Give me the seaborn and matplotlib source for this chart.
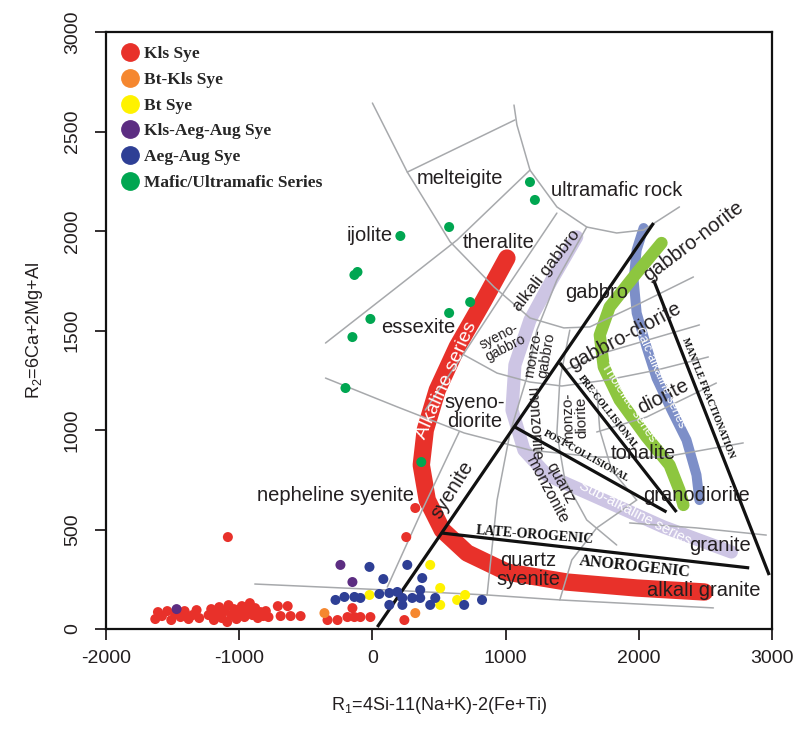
"""
R1-R2 (De la Roche) classification diagram with sample groups
"""
import pandas as pd
import matplotlib.pyplot as plt
import seaborn as sns
from matplotlib.lines import Line2D

sns.set_style("ticks")
plt.rcParams['font.family'] = ['Liberation Sans', 'DejaVu Sans']
plt.rcParams['mathtext.fontset'] = 'custom'
plt.rcParams['mathtext.rm'] = 'Liberation Sans'
plt.rcParams['mathtext.it'] = 'Liberation Sans:italic'
plt.rcParams['axes.unicode_minus'] = False

# ---------------- sample data (R1, R2) ----------------
kls_x = [-1630, -1610, -1580, -1540, -1510, -1480, -1440, -1410, -1380, -1350, -1320, -1300,
         -1230, -1210, -1190, -1170, -1150, -1130, -1110, -1090, -1080, -1060, -1040, -1020,
         -1000, -980, -960, -940, -920, -900, -880, -860, -840, -820, -800, -780,
         -1085, -710, -636, -689, -614, -539, -337, -262, -187, -135, -90, -15, -150,
         240, 254, 322]
kls_y = [50, 85, 65, 90, 45, 75, 60, 90, 50, 70, 95, 55,
         70, 100, 45, 80, 110, 55, 90, 35, 120, 70, 100, 50,
         85, 115, 60, 95, 130, 70, 105, 55, 85, 65, 90, 60,
         462, 115, 115, 65, 65, 65, 45, 45, 60, 60, 60, 60, 105,
         45, 462, 608]

btkls_x = [-360, 322]
btkls_y = [80, 80]

bt_x = [434, -22, 509, 509, 636, 696]
bt_y = [322, 171, 206, 121, 146, 171]

klsaeg_x = [-240, -150, -1470]
klsaeg_y = [322, 236, 100]

aeg_x = [-22, 262, 82, 374, -277, -210, -135, -90, 52, 127, 187, 225, 299, 359, 359,
         434, 472, 127, 225, 689, 823]
aeg_y = [312, 322, 251, 256, 146, 161, 161, 156, 176, 181, 186, 156, 156, 196, 156,
         121, 156, 121, 121, 121, 146]

mafic_x = [1183, 1220, 576, 210, -112, -135, 734, 576, -15, -150, -202, 367]
mafic_y = [2246, 2156, 2020, 1975, 1794, 1779, 1643, 1588, 1558, 1467, 1211, 839]

groups = ['Kls Sye', 'Bt-Kls Sye', 'Bt Sye', 'Kls-Aeg-Aug Sye', 'Aeg-Aug Sye',
          'Mafic/Ultramafic Series']
colors = ['#e8312a', '#f5872f', '#fff200', '#5c2d82', '#2e3f95', '#00a651']

# ---------------- classification grid (R1, R2) ----------------
bnd_gabbro_top = [(0, 2643), (262, 2296), (584, 1945), (913, 1719), (1183, 1563),
                  (1437, 1513), (1632, 1518), (1984, 1628), (2410, 1769)]
bnd_ultramafic = [(1063, 2633), (1085, 2533), (1183, 2306), (1385, 2121), (1609, 2020),
                  (1834, 1990), (2036, 2005), (2305, 2121)]
bnd_melteigite = [(262, 2296), (1070, 2558)]
bnd_theralite = [(-352, 1437), (187, 1719), (636, 1955), (1183, 2306)]
bnd_alk_gabbro = [(1385, 2090), (1033, 1739), (689, 1387), (397, 1100)]
bnd_monzo = [(1609, 2020), (1385, 1754), (1235, 1502), (1160, 1266), (1033, 985),
             (936, 648), (861, 171)]
bnd_syenodiorite = [(-352, 1261), (187, 1116), (689, 985), (1183, 899), (1684, 864),
                    (2186, 864), (2784, 935)]
bnd_syenogabbro = [(689, 1377), (936, 1286), (1183, 1241), (1422, 1221), (1759, 1251),
                   (2133, 1301), (2522, 1367)]
bnd_gabbrodiorite = [(1445, 1301), (1759, 1392), (2455, 1528)]
bnd_tonalite = [(1684, 990), (2058, 1065), (2582, 1236)]
bnd_syenite = [(651, 990), (374, 598), (112, 211)]
bnd_base = [(-883, 226), (112, 196), (861, 171), (1407, 146), (2560, 106)]
bnd_qmonzonite = [(1482, 1502), (1407, 1251), (1385, 985), (1445, 749), (1609, 548),
                  (1834, 422)]
bnd_monzodiorite = [(1684, 1201), (1707, 1000), (1796, 799), (1984, 648)]
bnd_qsyenite = [(1407, 146), (1497, 347), (1684, 508), (1984, 648)]
bnd_granite = [(1931, 533), (2433, 508), (2957, 472)]

grid_lines = [bnd_gabbro_top, bnd_ultramafic, bnd_melteigite, bnd_theralite,
              bnd_alk_gabbro, bnd_monzo, bnd_syenodiorite, bnd_syenogabbro,
              bnd_gabbrodiorite, bnd_tonalite, bnd_syenite, bnd_base,
              bnd_qmonzonite, bnd_monzodiorite, bnd_qsyenite, bnd_granite]

# magmatic series trends
trend_alkaline = [(1010, 1864), (838, 1653), (636, 1417), (487, 1201), (397, 1000),
                  (367, 824), (412, 648), (524, 498), (711, 382), (1010, 286),
                  (1460, 236), (1984, 206), (2493, 186)]
trend_subalk = [(1534, 1970), (1347, 1754), (1183, 1553), (1070, 1327), (1048, 1100),
                (1138, 899), (1310, 774), (1684, 663), (2186, 513), (2695, 387)]
trend_thol = [(2171, 1940), (1984, 1789), (1781, 1618), (1707, 1477), (1737, 1317),
              (1856, 1151), (2058, 965), (2231, 824), (2305, 698), (2335, 623)]
trend_calc = [(2036, 2015), (1984, 1905), (1961, 1754), (1984, 1588), (2058, 1417),
              (2133, 1261), (2246, 1100), (2358, 950), (2433, 774), (2455, 648)]

# tectonic discrimination lines (Batchelor & Bowden)
tect_main = [(37, 10), (2111, 2040)]
tect_late = [(524, 482), (2829, 307)]
tect_post = [(1070, 1015), (2208, 588)]
tect_pre = [(1407, 1337), (2283, 588)]
tect_mantle = [(2111, 1754), (2979, 271)]

# rock names: text, R1, R2, rotation, size
rock_names = [
    ("melteigite", 659, 2266, 0, 14.5),
    ("ultramafic rock", 1834, 2206, 0, 14.5),
    ("ijolite", -22, 1975, 0, 14.5),
    ("theralite", 951, 1940, 0, 14.5),
    ("alkali gabbro", 1310, 1804, 52, 12.5),
    ("gabbro", 1684, 1693, 0, 14.5),
    ("gabbro-norite", 2410, 1950, 37, 14.5),
    ("gabbro-diorite", 1894, 1472, 28, 14.5),
    ("essexite", 344, 1513, 0, 14.5),
    ("syeno-\ngabbro", 973, 1442, 27, 10),
    ("monzo-\ngabbro", 1257, 1380, 80, 10.5),
    ("syeno-\ndiorite", 771, 1090, 0, 14.5),
    ("monzonite", 1213, 1030, -86, 11.5),
    ("monzo-\ndiorite", 1519, 1060, 92, 11),
    ("quartz\nmonzonite", 1362, 714, -62, 11.5),
    ("tonalite", 2036, 884, 0, 14.5),
    ("diorite", 2186, 1166, 27, 14.5),
    ("granodiorite", 2433, 673, 0, 14.5),
    ("granite", 2612, 422, 0, 14.5),
    ("alkali granite", 2485, 191, 0, 14.5),
    ("quartz\nsyenite", 1168, 296, 0, 14.5),
    ("syenite", 599, 698, 58, 14.5),
    ("nepheline syenite", -277, 673, 0, 14.5),
]
tect_names = [
    ("LATE-OROGENIC", 1220, 472, -4.5, 10),
    ("ANOROGENIC", 1969, 312, -6, 11.5),
    ("PRE-COLLISIONAL", 1766, 1090, -52, 7),
    ("POST-COLLISIONAL", 1609, 869, -29, 7),
    ("MANTLE FRACTIONATION", 2522, 1161, -68.5, 7),
]
series_names = [
    ("Alkaline series", 554, 1251, 66, 14),
    ("Tholeiitic series", 1924, 1136, -57, 9.5),
    ("Calc-alkaline series", 2156, 1261, -66, 9),
    ("Sub-alkaline series", 1969, 583, -27.5, 10.5),
]


def xy(pts):
    return [p[0] for p in pts], [p[1] for p in pts]


# ---------------- figure ----------------
fig = plt.figure(figsize=(7.96, 7.31), dpi=100)
ax = fig.add_axes([106 / 796, 1 - 629 / 731, 666 / 796, 597 / 731])

# series bands
for pts, col, lw in [(trend_subalk, '#cdc5e4', 9.5), (trend_alkaline, '#e8312a', 12.5),
                     (trend_calc, '#7d8fc8', 7.2), (trend_thol, '#8dc63f', 8.8)]:
    ax.plot(*xy(pts), color=col, lw=lw, solid_capstyle='round',
            solid_joinstyle='round', zorder=2)

# grid
for pts in grid_lines:
    ax.plot(*xy(pts), color='#a7a9ac', lw=1.1, zorder=3)

# tectonic lines
for pts in [tect_main, tect_late, tect_post, tect_pre, tect_mantle]:
    ax.plot(*xy(pts), color='#111111', lw=2.3, solid_capstyle='butt', zorder=4)

for s, x, y, r, fs in rock_names:
    ax.text(x, y, s, rotation=r, fontsize=fs, color='#231f20', ha='center',
            va='center', ma='center', linespacing=1.0, rotation_mode='anchor', zorder=5)
for s, x, y, r, fs in tect_names:
    ax.text(x, y, s, rotation=r, fontsize=fs, color='#111111', ha='center',
            va='center', family='Liberation Serif', weight='bold',
            rotation_mode='anchor', zorder=5)
for s, x, y, r, fs in series_names:
    ax.text(x, y, s, rotation=r, fontsize=fs, color='white', ha='center',
            va='center', rotation_mode='anchor', zorder=5)

# samples
df = pd.concat([
    pd.DataFrame({'R1': kls_x, 'R2': kls_y, 'group': groups[0]}),
    pd.DataFrame({'R1': btkls_x, 'R2': btkls_y, 'group': groups[1]}),
    pd.DataFrame({'R1': bt_x, 'R2': bt_y, 'group': groups[2]}),
    pd.DataFrame({'R1': klsaeg_x, 'R2': klsaeg_y, 'group': groups[3]}),
    pd.DataFrame({'R1': aeg_x, 'R2': aeg_y, 'group': groups[4]}),
    pd.DataFrame({'R1': mafic_x, 'R2': mafic_y, 'group': groups[5]}),
], ignore_index=True)
sns.scatterplot(data=df, x='R1', y='R2', hue='group', hue_order=groups,
                palette=dict(zip(groups, colors)), s=52, edgecolor='none',
                legend=False, ax=ax, zorder=6)

handles = [Line2D([0], [0], marker='o', ls='', color=c, markersize=12.5) for c in colors]
ax.legend(handles, groups, loc='upper left', bbox_to_anchor=(0.012, 0.985),
          frameon=False, borderaxespad=0, borderpad=0.3, handlelength=1.2,
          handletextpad=0.25, labelspacing=0.55,
          prop={'family': 'Liberation Serif', 'weight': 'bold', 'size': 12.5})

ax.set_xlim(-2000, 3000)
ax.set_ylim(0, 3000)
ax.set_xticks(range(-2000, 3001, 1000))
ax.set_yticks(range(0, 3001, 500))
ax.tick_params(direction='out', length=8, width=1.3, labelsize=14,
               colors='#231f20')
ax.tick_params(axis='x', pad=7)
ax.tick_params(axis='y', pad=10)
plt.setp(ax.get_yticklabels(), rotation=90, va='center')
for sp in ax.spines.values():
    sp.set_linewidth(1.6)
    sp.set_color('#111111')

ax.set_xlabel(r'R$_1$=4Si-11(Na+K)-2(Fe+Ti)', fontsize=13, color='#231f20', labelpad=20)
ax.set_ylabel(r'R$_2$=6Ca+2Mg+Al', fontsize=13, color='#231f20', labelpad=14)

fig.savefig('out.png', dpi=100)
